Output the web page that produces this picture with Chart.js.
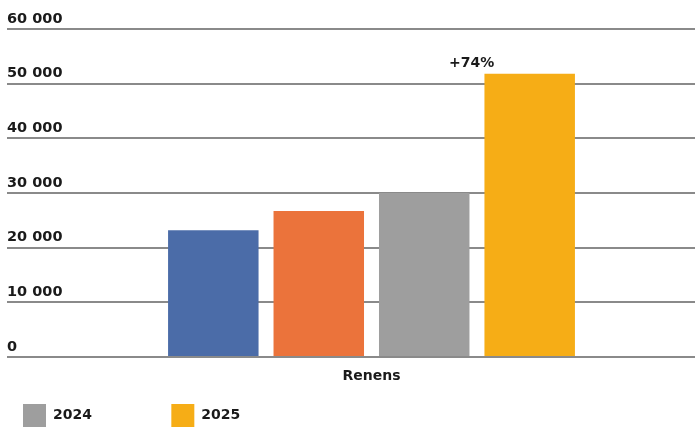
<!DOCTYPE html>
<html><head><meta charset="utf-8">
<script src="https://cdn.jsdelivr.net/npm/chart.js@4"></script>
<style>html,body{margin:0;padding:0;background:#fff}</style>
</head><body>
<canvas id="c" width="699" height="429" style="display:block;width:699px;height:429px"></canvas>
<script>
const categories = ['Renens'];
const seriesNames = ['2022', '2023', '2024', '2025'];
const values2022 = [23200];
const values2023 = [26700];
const values2024 = [30000];
const values2025 = [51800];
const seriesColors = ['#4b6ca8', '#eb733b', '#9e9e9e', '#f6ad16'];
const legendShown = ['2024', '2025'];
const yTickValues = [0, 10000, 20000, 30000, 40000, 50000, 60000];
const changeLabel = '+74%';

const allValues = [values2022, values2023, values2024, values2025];
const FONT = "'DejaVu Sans', sans-serif";
const TEXT = '#1a1a1a';

const fmt = v => String(v).replace(/\B(?=(\d{3})+(?!\d))/g, ' ');

const changeLabelPlugin = {
  id: 'changeLabel',
  afterDatasetsDraw(chart) {
    const meta = chart.getDatasetMeta(3);
    const el = meta.data[0];
    const ctx = chart.ctx;
    ctx.save();
    ctx.font = "bold 14px " + FONT;
    ctx.fillStyle = TEXT;
    ctx.textAlign = 'center';
    ctx.textBaseline = 'middle';
    ctx.fillText(changeLabel, el.x - 58, el.y - 10);
    ctx.restore();
  }
};

new Chart(document.getElementById('c'), {
  type: 'bar',
  data: {
    labels: categories,
    datasets: seriesNames.map((n, i) => ({
      label: n,
      data: allValues[i],
      backgroundColor: seriesColors[i],
      borderWidth: 0,
      categoryPercentage: 0.652,
      barPercentage: 0.858
    }))
  },
  options: {
    responsive: false,
    animation: false,
    layout: { padding: { left: 7, right: 4, top: 29, bottom: -8 } },
    plugins: {
      tooltip: { enabled: false },
      legend: {
        position: 'bottom',
        align: 'start',
        labels: {
          boxWidth: 23,
          boxHeight: 23,
          padding: 16,
          color: TEXT,
          font: { family: FONT, size: 14, weight: 'bold' },
          generateLabels(chart) {
            const items = Chart.defaults.plugins.legend.labels.generateLabels(chart);
            return items.filter(it => legendShown.includes(it.text))
              .map(it => Object.assign({}, it, { text: it.text + ' '.repeat(13), lineWidth: 0 }));
          }
        }
      }
    },
    scales: {
      x: {
        grid: { display: false, drawTicks: false },
        border: { display: false },
        ticks: { color: TEXT, padding: 11, font: { family: FONT, size: 14, weight: 'bold' } },
        afterFit(s) { s.height = 31; }
      },
      y: {
        min: 0,
        max: 60000,
        afterBuildTicks(s) { s.ticks = yTickValues.map(v => ({ value: v })); },
        afterFit(s) { s.width = 41; },
        border: { display: false },
        grid: { color: '#8a8a8a', lineWidth: 2, drawTicks: true, tickLength: 41 },
        ticks: {
          mirror: true,
          crossAlign: 'near',
          labelOffset: -10,
          padding: -41,
          color: TEXT,
          font: { family: FONT, size: 14.5, weight: 'bold' },
          callback: v => fmt(v)
        }
      }
    }
  },
  plugins: [changeLabelPlugin]
});
</script>
</body></html>
